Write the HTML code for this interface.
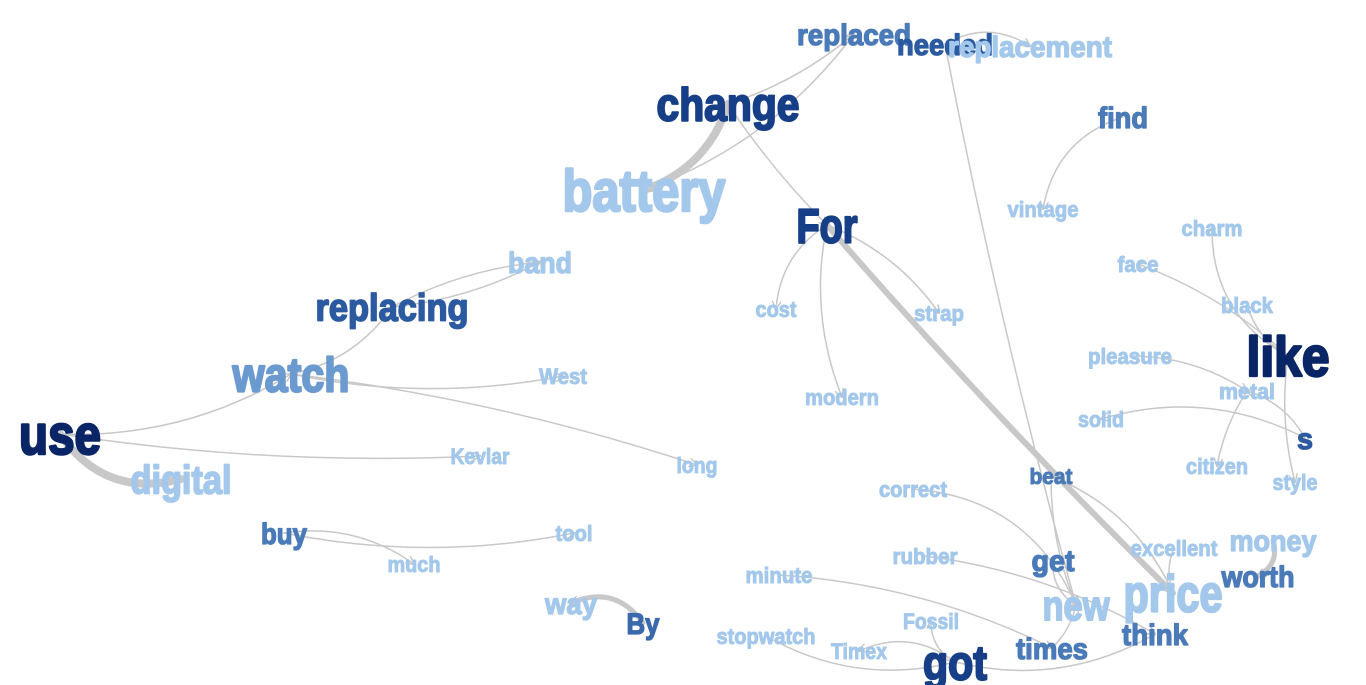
<!DOCTYPE html>
<html><head><meta charset="utf-8">
<style>
html,body{margin:0;padding:0;background:#fff;}
svg{display:block;}
text{font-family:"Liberation Sans Narrow","Liberation Sans",sans-serif;font-weight:bold;}
</style></head>
<body>
<svg id="chart" width="1366" height="685" viewBox="0 0 1366 685">
<defs>
<marker id="arr" viewBox="0 0 10 10" refX="9" refY="5" markerWidth="9" markerHeight="9" orient="auto" markerUnits="userSpaceOnUse">
<path d="M0,0 L10,5 L0,10" fill="none" stroke="#c4c4c4" stroke-width="1.5"/>
</marker>
</defs>
<g id="edges"></g>
<g id="nodes"></g>
</svg>
<script>
const words=["replaced","needed","replacement","change","find","battery","For","vintage","charm","band","face","replacing","cost","strap","black","watch","like","pleasure","West","modern","metal","use","solid","s","Kevlar","long","digital","beat","citizen","style","correct","buy","tool","money","excellent","rubber","get","much","minute","worth","price","new","way","By","Fossil","think","stopwatch","Timex","got","times"];
const nodeX=[854,945,1030,728,1123,644,827,1043,1212,540,1138,392,776,939,1247,291,1288,1130,563,842,1247,60,1101,1305,480,697,181,1051,1217,1295,913,284,574,1273,1174,925,1053,414,779,1258,1173,1076,571,643,931,1155,766,859,955,1052];
const nodeY=[34,44,46,104,117,190,225,209,228,262,264,307,309,313,305,374,356,356,376,397,391,434,419,438,456,465,479,476,466,482,489,533,533,540,548,556,560,564,575,576,593,605,603,623,621,634,636,651,662,648];
const nodeW=[114,96,164,143,50,163,61,71,61,64,41,153,41,50,52,117,83,84,48,74,56,82,46,16,59,41,101,43,62,45,68,46,37,87,87,65,43,53,67,73,99,67,52,33,56,66,99,56,64,72];
const nodeSize=[30,30,30,46,30,58,48,22,22,30,22,38,22,22,22,48,56,22,22,22,22,56,22,30,22,22,40,22,22,22,22,30,22,30,22,22,30,22,22,30,52,42,30,30,22,30,22,22,48,30];
const nodeColor=["#4a7ab8","#2c5aa0","#a3c8eb","#163f87","#4a7ab8","#a3c8eb","#163f87","#a3c8eb","#a3c8eb","#a3c8eb","#a3c8eb","#2c5aa0","#a3c8eb","#a3c8eb","#a3c8eb","#6a9ad0","#0a2566","#a3c8eb","#a3c8eb","#a3c8eb","#a3c8eb","#0a2566","#a3c8eb","#2c5aa0","#a3c8eb","#a3c8eb","#a3c8eb","#4a7ab8","#a3c8eb","#a3c8eb","#a3c8eb","#4a7ab8","#a3c8eb","#a3c8eb","#a3c8eb","#a3c8eb","#4a7ab8","#a3c8eb","#a3c8eb","#4a7ab8","#a3c8eb","#a3c8eb","#a3c8eb","#3a68ad","#a3c8eb","#4a7ab8","#a3c8eb","#a3c8eb","#163f87","#4a7ab8"];
const edgeFrom=["change","battery","change","replacing","replacing","change","watch","use","use","use","watch","watch","For","For","For","For","needed","needed","find","like","like","like","pleasure","s","s","metal","like","beat","beat","correct","rubber","minute","stopwatch","got","got","got","times","get","excellent","money","buy","buy","By"];
const edgeTo=["battery","replaced","replaced","band","band","For","replacing","watch","digital","Kevlar","West","long","cost","modern","strap","price","new","replacement","vintage","face","charm","black","metal","metal","solid","citizen","style","price","new","new","think","times","got","Fossil","Timex","think","new","new","price","worth","tool","much","way"];
const edgeWeight=[8,1.5,1.5,1.5,1.5,1.5,1.5,1.5,8,1.5,1.5,1.5,1.5,1.5,1.5,6,1.5,1.5,1.5,1.5,1.5,1.5,1.5,1.5,1.5,1.5,1.5,1.5,1.5,1.5,1.5,1.5,1.5,1.5,1.5,1.5,1.5,1.5,1.5,5,1.5,1.5,5];
const edgeBend=[-0.25,0.15,0.1,0.1,-0.1,0.05,0.2,0.15,0.35,0.05,0.1,-0.05,0.25,0.15,-0.15,0.02,0.02,-0.3,0.3,0.1,-0.3,-0.2,-0.15,0.2,0.2,0.1,0.1,-0.2,0.1,-0.3,-0.1,-0.1,0.2,-0.3,0.3,0.2,0.15,0.3,0.2,-0.4,0.1,-0.2,0.4];
const NS="http://www.w3.org/2000/svg";
const eg=document.getElementById('edges'), ng=document.getElementById('nodes');
const idx=w=>words.indexOf(w);
edgeFrom.forEach((f,i)=>{
  const a=idx(f), b=idx(edgeTo[i]);
  const x1=nodeX[a], y1=nodeY[a], x2=nodeX[b], y2=nodeY[b];
  const mx=(x1+x2)/2, my=(y1+y2)/2, dx=x2-x1, dy=y2-y1;
  const cx=mx-dy*edgeBend[i], cy=my+dx*edgeBend[i];
  const p=document.createElementNS(NS,'path');
  p.setAttribute('d',`M${x1},${y1} Q${cx},${cy} ${x2},${y2}`);
  p.setAttribute('fill','none');
  p.setAttribute('stroke','#c8c8c8');
  p.setAttribute('stroke-width',edgeWeight[i]);
  p.setAttribute('stroke-linecap','round');
  p.setAttribute('marker-end','url(#arr)');
  
  
  eg.appendChild(p);
});
words.forEach((w,i)=>{
  const t=document.createElementNS(NS,'text');
  const s=nodeSize[i];
  t.setAttribute('x',nodeX[i]);
  t.setAttribute('y',nodeY[i]+s*0.36);
  t.setAttribute('text-anchor','middle');
  t.setAttribute('font-size',s);
  t.setAttribute('fill',nodeColor[i]);
  t.setAttribute('stroke',nodeColor[i]);
  t.setAttribute('stroke-width',(s*0.045).toFixed(2));
  t.setAttribute('stroke-linejoin','round');
  t.setAttribute('textLength',nodeW[i]);
  t.setAttribute('lengthAdjust','spacingAndGlyphs');
  t.textContent=w;
  
  
  ng.appendChild(t);
});
</script>
</body></html>
